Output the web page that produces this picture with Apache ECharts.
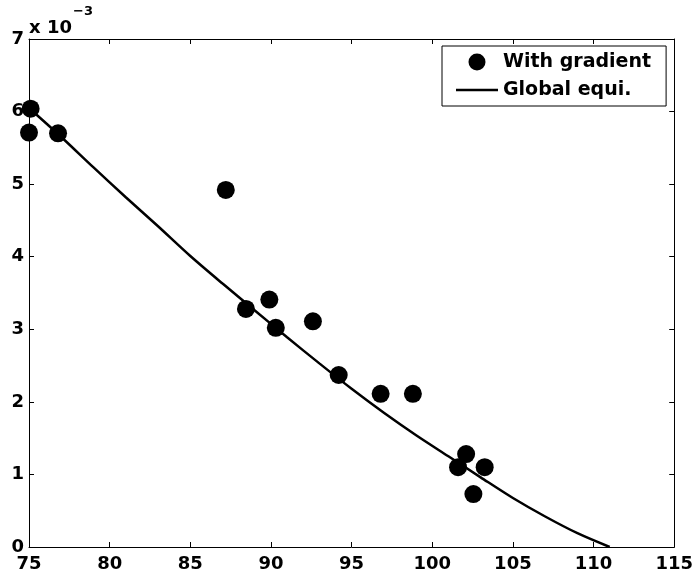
<!DOCTYPE html>
<html>
<head>
<meta charset="utf-8">
<script src="https://cdn.jsdelivr.net/npm/echarts@6/dist/echarts.min.js"></script>
<style>
html,body{margin:0;padding:0;background:#fff;}
#chart{width:696px;height:583px;}
</style>
</head>
<body>
<div id="chart"></div>
<script>
// Scatter: "With gradient"
const gradX = [75.1, 75.0, 76.8, 87.2, 88.45, 89.9, 90.3, 92.6, 94.2, 96.8, 98.8, 101.6, 102.1, 103.25, 102.55];
const gradY = [0.00604, 0.00571, 0.00570, 0.00492, 0.00328, 0.00341, 0.00302, 0.00311, 0.00237, 0.00211, 0.00211, 0.00110, 0.00128, 0.00110, 0.00073];
// Line: "Global equi."
const equiX = [75, 77, 79, 81, 83, 85, 87, 89, 91, 93, 95, 97, 99, 101, 103, 105, 107, 109, 111];
const equiY = [0.00605, 0.00565, 0.00523, 0.00482, 0.00442, 0.00401, 0.00363, 0.00326, 0.00289, 0.00253, 0.00218, 0.00185, 0.00154, 0.00125, 0.00096, 0.000675, 0.00042, 0.00019, 0.0];
const xTicks = {min: 75, max: 115, step: 5};
const yTicks = {min: 0, max: 0.007, step: 0.001};
const seriesNames = ['With gradient', 'Global equi.'];

const FONT = 'DejaVu Sans';
const chart = echarts.init(document.getElementById('chart'), null, {renderer: 'canvas'});

const axisBase = {
  type: 'value',
  axisLine: {show: true, onZero: false, lineStyle: {color: '#000', width: 1}},
  axisTick: {show: true, inside: true, length: 5, lineStyle: {color: '#000', width: 1}},
  splitLine: {show: false}
};
const labelStyle = {color: '#000', fontFamily: FONT, fontWeight: 'bold', fontSize: 18};

chart.setOption({
  animation: false,
  backgroundColor: '#fff',
  grid: {left: 29, right: 21, top: 39, bottom: 36, containLabel: false},
  legend: {
    orient: 'vertical',
    left: 442, top: 46,
    align: 'left',
    padding: [5, 15, 5, 14],
    itemWidth: 42, itemHeight: 17, itemGap: 6,
    borderColor: '#000', borderWidth: 1, backgroundColor: '#fff',
    textStyle: {color: '#000', fontFamily: FONT, fontWeight: 'bold', fontSize: 19, lineHeight: 22},
    data: [
      {name: seriesNames[0], icon: 'circle'},
      {name: seriesNames[1], icon: 'path://M0,0 L40,0 L40,2.5 L0,2.5 Z'}
    ]
  },
  xAxis: [
    Object.assign({}, axisBase, {
      position: 'bottom', min: xTicks.min, max: xTicks.max, interval: xTicks.step,
      axisLabel: Object.assign({margin: 8}, labelStyle)
    }),
    Object.assign({}, axisBase, {
      position: 'top', min: xTicks.min, max: xTicks.max, interval: xTicks.step,
      axisLabel: {show: false}
    })
  ],
  yAxis: [
    Object.assign({}, axisBase, {
      position: 'left', min: yTicks.min, max: yTicks.max, interval: yTicks.step,
      axisLabel: Object.assign({margin: 5, formatter: v => String(Math.round(v * 1000))}, labelStyle),
      name: '{s|\u22123}\n{b|x 10}',
      nameLocation: 'end',
      nameGap: 2,
      nameMoveOverlap: false,
      nameTextStyle: {
        color: '#000', fontFamily: FONT, fontWeight: 'bold', fontSize: 18,
        align: 'left', verticalAlign: 'bottom',
        rich: {
          b: {fontFamily: FONT, fontWeight: 'bold', fontSize: 18, color: '#000', lineHeight: 18},
          s: {fontFamily: FONT, fontWeight: 'bold', fontSize: 13, color: '#000', lineHeight: 12, padding: [0, 0, 3, 44]}
        }
      }
    }),
    Object.assign({}, axisBase, {
      position: 'right', min: yTicks.min, max: yTicks.max, interval: yTicks.step,
      axisLabel: {show: false}
    })
  ],
  series: [
    {
      name: seriesNames[0], type: 'scatter', xAxisIndex: 0, yAxisIndex: 0,
      symbol: 'circle', symbolSize: 18, clip: false, z: 3,
      itemStyle: {color: '#000', opacity: 1},
      data: gradX.map((x, i) => [x, gradY[i]])
    },
    {
      name: seriesNames[1], type: 'line', xAxisIndex: 0, yAxisIndex: 0,
      smooth: 0.3, showSymbol: false, symbol: 'none', z: 2,
      lineStyle: {color: '#000', width: 2.5},
      itemStyle: {color: '#000'},
      data: equiX.map((x, i) => [x, equiY[i]])
    }
  ]
});
</script>
</body>
</html>
